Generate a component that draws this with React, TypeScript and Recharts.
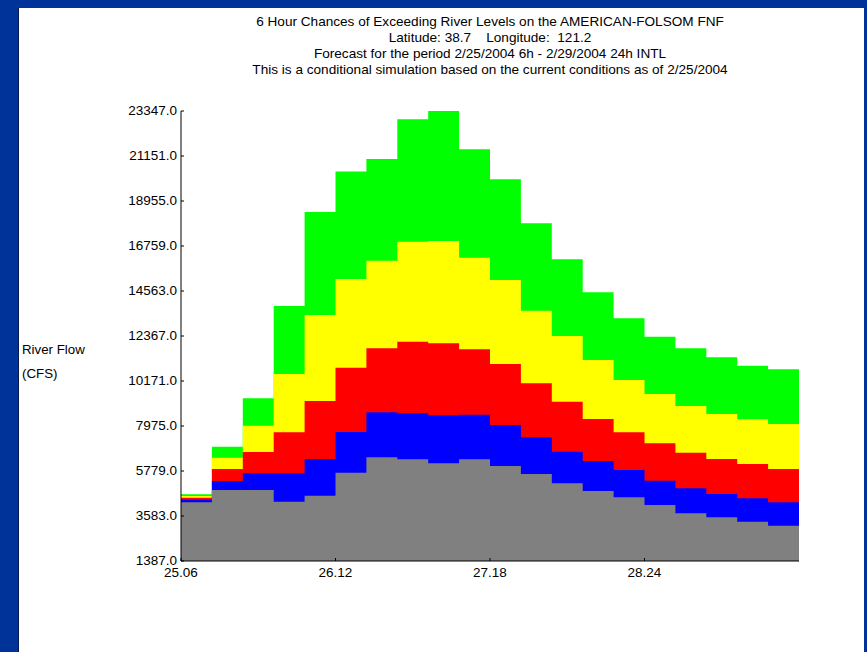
import React from 'react';
import { ComposedChart, Area, XAxis, YAxis } from 'recharts';

// 6-hour steps starting 25.06 (last entry closes the final step)
const steps = [0, 1, 2, 3, 4, 5, 6, 7, 8, 9, 10, 11, 12, 13, 14, 15, 16, 17, 18, 19, 20];

// exceedance levels per step (CFS)
const green = [4650, 6965, 9327, 13831, 18418, 20395, 21005, 22942, 23347, 21478, 20014, 17867, 16110, 14500, 13231, 12333, 11767, 11328, 10918, 10742, 10742];
const yellow = [4560, 6428, 7990, 10513, 13392, 15149, 16042, 16969, 17003, 16188, 15100, 13602, 12367, 11196, 10220, 9537, 8951, 8561, 8302, 8073, 8073];
const red = [4470, 5877, 6706, 7668, 9195, 10820, 11767, 12089, 12011, 11718, 11001, 10059, 9161, 8317, 7668, 7131, 6672, 6365, 6121, 5877, 5877];
const blue = [4370, 5291, 5667, 5667, 6365, 7682, 8644, 8595, 8497, 8526, 8024, 7424, 6721, 6267, 5828, 5306, 4935, 4657, 4447, 4252, 4252];
const gray = [4260, 4852, 4852, 4281, 4574, 5696, 6448, 6350, 6155, 6350, 6023, 5633, 5179, 4803, 4496, 4120, 3715, 3520, 3305, 3110, 3110];

const yTicks = [1387, 3583, 5779, 7975, 10171, 12367, 14563, 16759, 18955, 21151, 23347];
const xTicks = [0, 5, 10, 15];
const xTickLabels = ['25.06', '26.12', '27.18', '28.24'];

const titleLines = [
  '6 Hour Chances of Exceeding River Levels on the AMERICAN-FOLSOM FNF',
  'Latitude: 38.7    Longitude:  121.2',
  'Forecast for the period 2/25/2004 6h - 2/29/2004 24h INTL',
  'This is a conditional simulation based on the current conditions as of 2/25/2004',
];

const data = steps.map((s, i) => ({
  step: s,
  green: green[i],
  yellow: yellow[i],
  red: red[i],
  blue: blue[i],
  gray: gray[i],
}));

const font = '"Liberation Sans", Arial, sans-serif';

const YTick = (props: any) => {
  const { x, y, payload } = props;
  return (
    <g>
      <line x1={x + 4} x2={x + 7} y1={y} y2={y} stroke="#000" />
      <text x={x} y={y} dy={4} textAnchor="end" fontSize={13.5} fontFamily={font} fill="#000">
        {payload.value.toFixed(1)}
      </text>
    </g>
  );
};

const XTick = (props: any) => {
  const { x, y, payload, index } = props;
  return (
    <g>
      <line x1={x} x2={x} y1={y - 5} y2={y - 2} stroke="#000" />
      <text x={x} y={y} dy={14} textAnchor="middle" fontSize={13.5} fontFamily={font} fill="#000">
        {xTickLabels[index] ?? payload.value}
      </text>
    </g>
  );
};

const App = () => {
  return (
    <div style={{ position: 'fixed', left: 0, top: 0, width: 867, height: 652, background: '#003399', overflow: 'hidden' }}>
      <div style={{ position: 'absolute', left: 18, top: 8, width: 845, height: 660, background: '#fff', borderLeft: '1px solid #001a50' }} />
      <div style={{ position: 'absolute', left: 160, top: 14, width: 660, textAlign: 'center', fontFamily: font, fontSize: 13.6, lineHeight: '16px', color: '#000' }}>
        {titleLines.map((t, i) => (
          <div key={i} style={{ whiteSpace: 'pre' }}>{t}</div>
        ))}
      </div>
      <div style={{ position: 'absolute', left: 22, top: 338, fontFamily: font, fontSize: 13.3, lineHeight: '24px', color: '#000' }}>
        <div>River Flow</div>
        <div>(CFS)</div>
      </div>
      <div style={{ position: 'absolute', left: 0, top: 0 }}>
        <ComposedChart width={867} height={652} data={data} margin={{ top: 111, right: 68, bottom: 71, left: 101 }}>
          <XAxis
            dataKey="step"
            type="number"
            domain={[0, 20]}
            ticks={xTicks}
            height={20}
            axisLine={{ stroke: '#000' }}
            tickLine={false}
            tick={<XTick />}
            tickSize={0}
            tickMargin={2}
            allowDataOverflow
          />
          <YAxis
            type="number"
            domain={[1387, 23347]}
            ticks={yTicks}
            width={80}
            axisLine={{ stroke: '#000' }}
            tickLine={false}
            tick={<YTick />}
            tickSize={0}
            tickMargin={4}
            allowDataOverflow
          />
          <YAxis
            yAxisId="right"
            orientation="right"
            type="number"
            domain={[1387, 23347]}
            width={0}
            axisLine={{ stroke: '#000' }}
            tick={false}
            tickLine={false}
          />
          <Area type="stepAfter" dataKey="green" stroke="none" fill="#00ff00" fillOpacity={1} isAnimationActive={false} />
          <Area type="stepAfter" dataKey="yellow" stroke="none" fill="#ffff00" fillOpacity={1} isAnimationActive={false} />
          <Area type="stepAfter" dataKey="red" stroke="none" fill="#ff0000" fillOpacity={1} isAnimationActive={false} />
          <Area type="stepAfter" dataKey="blue" stroke="none" fill="#0000ff" fillOpacity={1} isAnimationActive={false} />
          <Area type="stepAfter" dataKey="gray" stroke="none" fill="#808080" fillOpacity={1} isAnimationActive={false} />
        </ComposedChart>
      </div>
    </div>
  );
};

export default App;
